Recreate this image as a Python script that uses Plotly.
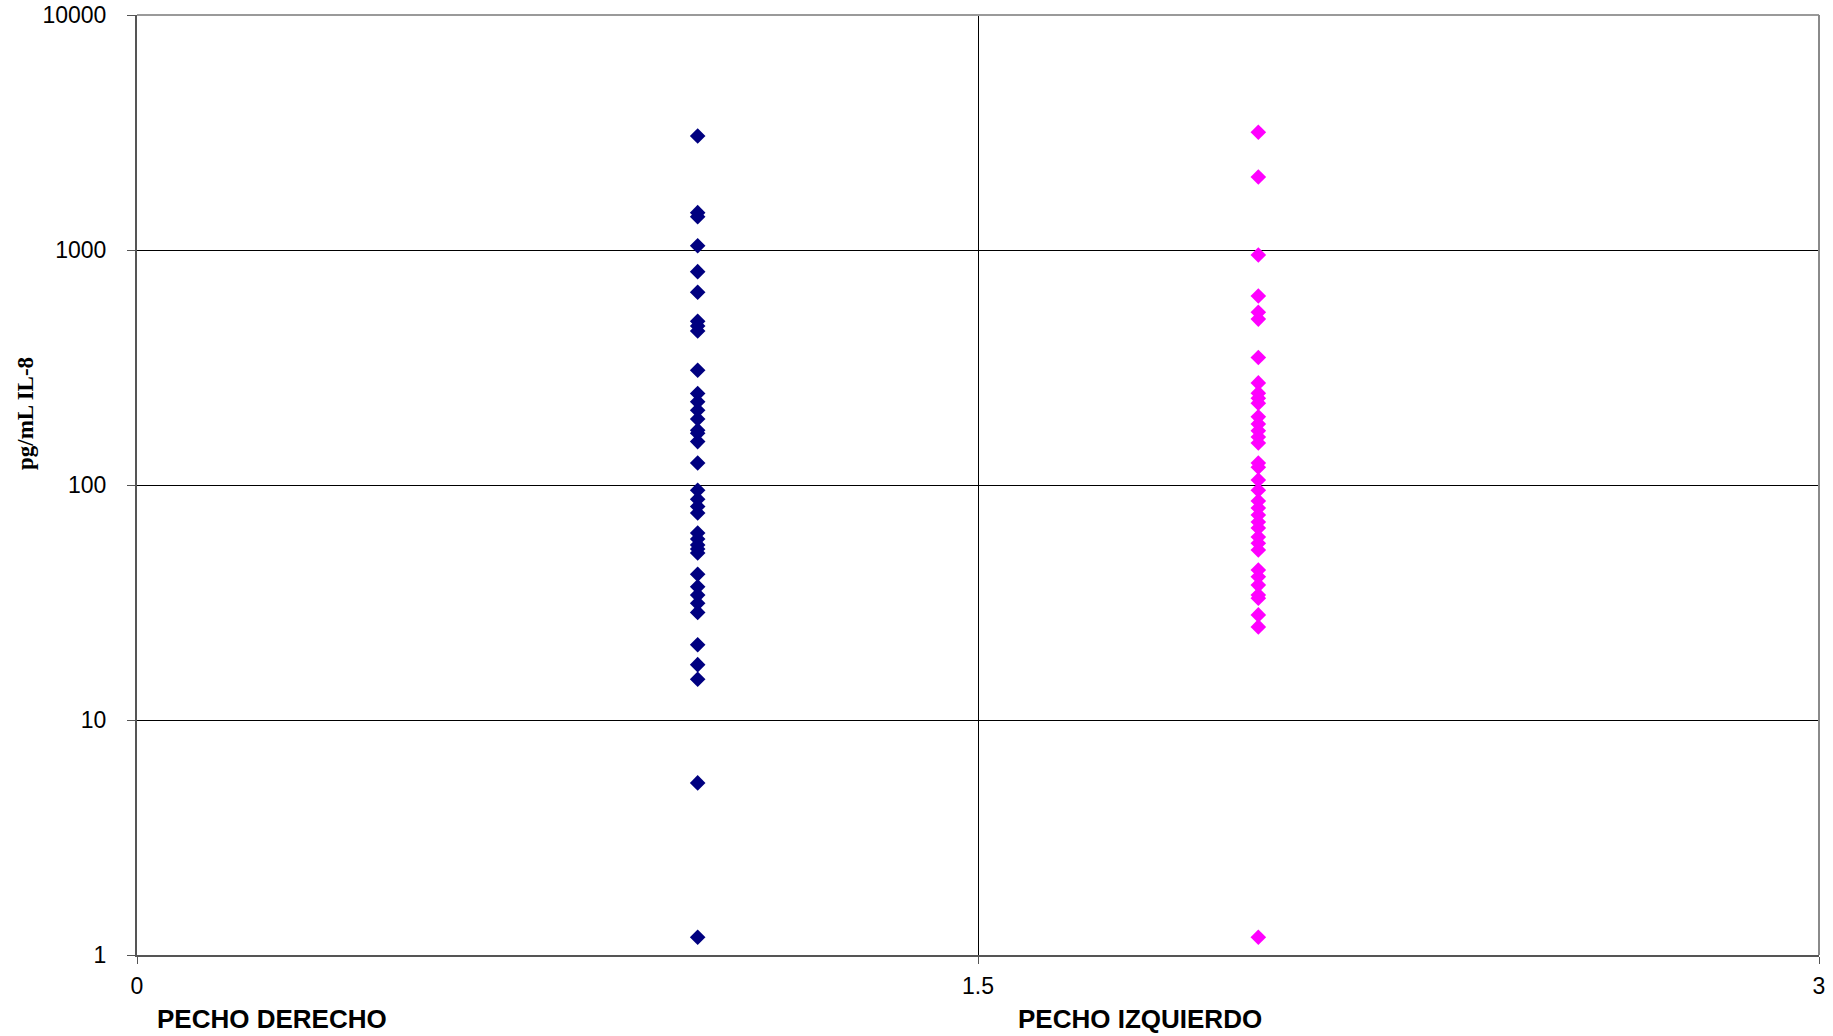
import plotly.graph_objects as go

# Data
series_names = ["PECHO DERECHO", "PECHO IZQUIERDO"]
x_derecho = 1
x_izquierdo = 2
il8_derecho = [3055, 1442, 1386, 1043, 809, 661, 497, 475, 452, 308, 245, 226,
               208, 191, 171, 166, 153, 124, 95, 87, 81, 76, 62.5, 58.9, 55.6,
               53.4, 51.4, 41.7, 36.9, 34.0, 31.4, 28.7, 20.9, 17.2, 14.9, 5.4,
               1.19]
il8_izquierdo = [3170, 2045, 952, 637, 543, 508, 349, 272, 246, 234, 223, 195,
                 182, 170, 160, 151, 124, 119, 105, 95, 85.5, 79.8, 74.5, 69.6,
                 65.6, 60.1, 56.5, 52.9, 43.5, 40.7, 37.5, 34.0, 33.0, 28.0,
                 24.9, 1.19]
x_tickvals = [0, 1.5, 3]
x_ticktext = ["0", "1.5", "3"]
y_tickvals = [1, 10, 100, 1000, 10000]
y_ticktext = ["1", "10", "100", "1000", "10000"]
y_title = "pg/mL IL-8"
category_label_x = [0.032, 1.567]

fig = go.Figure()
fig.add_trace(go.Scatter(
    x=[x_derecho] * len(il8_derecho), y=il8_derecho, mode="markers",
    name=series_names[0],
    marker=dict(symbol="diamond", size=12, color="#000080", line=dict(width=0)),
))
fig.add_trace(go.Scatter(
    x=[x_izquierdo] * len(il8_izquierdo), y=il8_izquierdo, mode="markers",
    name=series_names[1],
    marker=dict(symbol="diamond", size=12, color="#FF00FF", line=dict(width=0)),
))

tick_font = dict(family="Liberation Sans, Arial", size=23, color="black")

fig.update_layout(
    width=1833, height=1036,
    margin=dict(l=137, r=14, t=15, b=81),
    paper_bgcolor="white", plot_bgcolor="white",
    showlegend=False,
    hovermode=False,
    xaxis=dict(
        range=[0, 3], tickvals=x_tickvals, ticktext=x_ticktext,
        showgrid=True, gridcolor="black", gridwidth=1,
        showline=True, linecolor="#555555", linewidth=2,
        ticks="outside", ticklen=7, tickcolor="#555555", tickwidth=1,
        tickfont=tick_font, zeroline=False, ticklabelstandoff=2,
        automargin=False,
    ),
    yaxis=dict(
        type="log", range=[0, 4], tickvals=y_tickvals, ticktext=y_ticktext,
        showgrid=True, gridcolor="black", gridwidth=1,
        showline=True, linecolor="#555555", linewidth=2,
        ticks="outside", ticklen=8, tickcolor="#555555", tickwidth=1,
        tickfont=tick_font, zeroline=False, ticklabelstandoff=16,
        automargin=False,
    ),
)

# gray top and right border of plot area
fig.add_shape(type="line", xref="paper", yref="paper", x0=0, x1=1, y0=1, y1=1,
              line=dict(color="#9a9a9a", width=2), layer="above")
fig.add_shape(type="line", xref="paper", yref="paper", x0=1, x1=1, y0=0, y1=1,
              line=dict(color="#8a8a8a", width=2), layer="above")

# y-axis title
fig.add_annotation(
    text=f"<b>{y_title}</b>", xref="paper", yref="paper",
    x=-(137 - 25) / 1682, y=(955 - 414) / 940, xanchor="center", yanchor="middle",
    textangle=-90, showarrow=False,
    font=dict(family="Liberation Serif, Times New Roman", size=23, color="black"),
)

# category labels under the axis
for lbl, xv in zip(series_names, category_label_x):
    fig.add_annotation(
        text=f"<b>{lbl}</b>", xref="x", yref="paper", x=xv,
        y=-(1019 - 955) / 940, xanchor="left", yanchor="middle",
        showarrow=False,
        font=dict(family="Liberation Sans, Arial", size=26, color="black"),
    )

fig.write_html(
    "out.html",
    config={"displayModeBar": False},
    post_script="document.body.style.margin='0';document.body.style.overflow='hidden';",
)
